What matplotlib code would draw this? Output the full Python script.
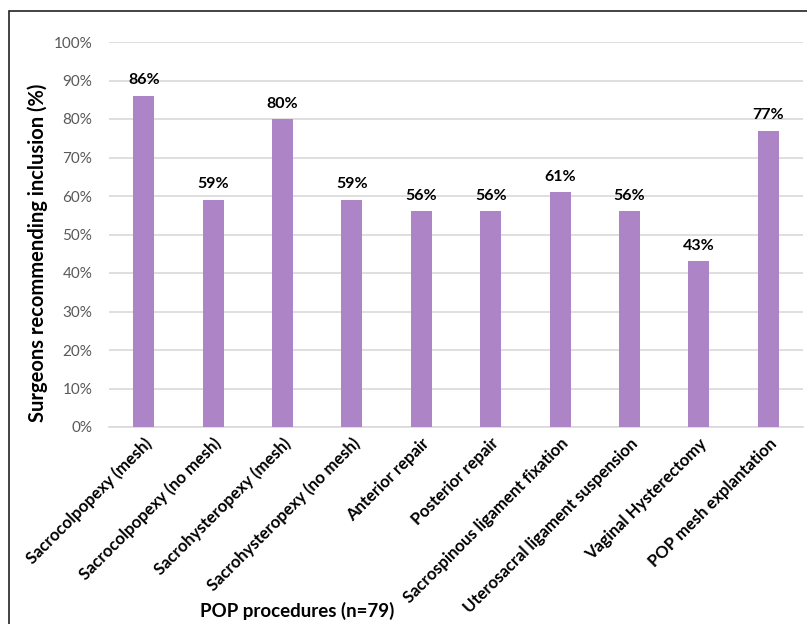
import matplotlib.pyplot as plt
from matplotlib.patches import Rectangle
from matplotlib.ticker import PercentFormatter

procedures = [
    "Sacrocolpopexy (mesh)",
    "Sacrocolpopexy (no mesh)",
    "Sacrohysteropexy (mesh)",
    "Sacrohysteropexy (no mesh)",
    "Anterior repair",
    "Posterior repair",
    "Sacrospinous ligament fixation",
    "Uterosacral ligament suspension",
    "Vaginal Hysterectomy",
    "POP mesh explantation",
]
pct = [86, 59, 80, 59, 56, 56, 61, 56, 43, 77]
yticks = [0, 10, 20, 30, 40, 50, 60, 70, 80, 90, 100]

plt.rcParams['font.family'] = ['Lato', 'DejaVu Sans']

W, H = 807, 624
fig = plt.figure(figsize=(W / 100, H / 100), dpi=100)
ax = fig.add_axes([109 / W, 1 - 427 / H, (803 - 109) / W, (427 - 42) / H])

# outer frame (left and top edges visible)
fig.patches.append(Rectangle((9 / W, -0.1), 1.2, 1.1 - 11 / H, transform=fig.transFigure,
                             fill=False, edgecolor='#222222', linewidth=1.2))

x = range(len(procedures))
bars = ax.bar(x, pct, width=0.3, color='#ad85c6', zorder=3)
for xi, v in zip(x, pct):
    ax.text(xi, v + 2.2, f"{v}%", ha='center', va='bottom', fontsize=11.5,
            fontweight='bold', color='black')

ax.set_xlim(-0.5, len(procedures) - 0.5)
ax.set_ylim(0, 100)
ax.set_yticks(yticks)
ax.yaxis.set_major_formatter(PercentFormatter(decimals=0))
ax.tick_params(axis='y', length=0, labelsize=11, labelcolor='#595959', pad=12)
ax.tick_params(axis='x', length=0, pad=6)
ax.set_xticks(list(x))
ax.set_xticklabels(procedures, rotation=45, ha='right', rotation_mode='anchor',
                   fontsize=12, fontweight='bold')
ax.grid(axis='y', color='#d9d9d9', linewidth=1.2, zorder=0)
for s in ['top', 'right', 'left']:
    ax.spines[s].set_visible(False)
ax.spines['bottom'].set_color('#d9d9d9')
ax.spines['bottom'].set_linewidth(1.2)

fig.text(38 / W, 1 - 253 / H, "Surgeons recommending inclusion (%)", rotation=90,
         ha='center', va='center', fontsize=14.5, fontweight='bold')
fig.text(297 / W, 1 - 611 / H, "POP procedures (n=79)", ha='center', va='center',
         fontsize=13.5, fontweight='bold')

fig.savefig('out.png', dpi=100)
